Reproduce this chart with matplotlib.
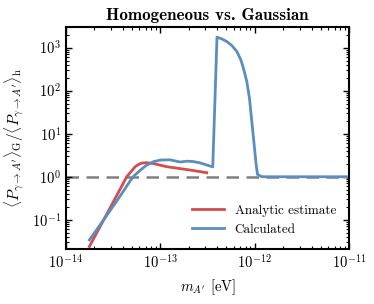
import matplotlib
matplotlib.use('Agg')
import matplotlib.pyplot as plt
import numpy as np

# Data
m_calc = [1.77e-14, 2.51e-14, 3.55e-14, 5.13e-14, 6.2e-14, 7.16e-14, 8.5e-14,
          1.0e-13, 1.26e-13, 1.62e-13, 1.91e-13, 2.24e-13, 2.63e-13, 3.36e-13,
          3.59e-13, 3.98e-13, 4.48e-13, 5.06e-13, 5.71e-13, 6.46e-13, 7.13e-13,
          7.59e-13, 8.24e-13, 8.79e-13, 9.31e-13, 9.86e-13, 1.035e-12,
          1.07e-12, 1.14e-12, 1.19e-12, 1.0e-11]
ratio_calc = [0.034, 0.1, 0.3, 1.0, 1.45, 1.87, 2.25, 2.44, 2.48, 2.2, 2.3, 2.25,
              2.1, 1.77, 1.7, 1750, 1590, 1380, 1120, 810, 515, 330, 162, 66,
              19, 5.5, 1.87, 1.13, 1.05, 1.0, 1.0]

m_analytic = [1.77e-14, 2.51e-14, 4.4e-14, 5.4e-14, 6.0e-14, 6.35e-14, 7.16e-14,
              8.5e-14, 1.17e-13, 2.07e-13, 3.1e-13]
ratio_analytic = [0.024, 0.1, 1.0, 1.71, 1.98, 2.08, 2.12, 2.02, 1.71, 1.43, 1.24]

x_ticks = [1e-14, 1e-13, 1e-12, 1e-11]
y_ticks = [1e-1, 1e0, 1e1, 1e2, 1e3]

plt.rcParams['font.family'] = 'serif'
plt.rcParams['font.serif'] = ['cmr10']
plt.rcParams['mathtext.fontset'] = 'cm'
plt.rcParams['axes.formatter.use_mathtext'] = True

fig = plt.figure(figsize=(3.74, 3.04), dpi=100)
ax = fig.add_axes([0.1765, 0.181, 0.757, 0.730])

ax.axhline(1.0, color='#808080', lw=1.8, ls=(0, (5, 3)), zorder=1)
ax.plot(m_analytic, ratio_analytic, color='#d34d4f', lw=2, label='Analytic estimate')
ax.plot(m_calc, ratio_calc, color='#5b8ebd', lw=2, label='Calculated')

ax.set_xscale('log')
ax.set_yscale('log')
ax.set_xticks(x_ticks)
ax.set_yticks(y_ticks)
ax.set_xlim(1e-14, 1e-11)
ax.set_ylim(0.021, 3000)

ax.tick_params(which='both', direction='in', top=True, right=True, labelsize=10.5)
ax.tick_params(which='major', length=4, width=1)
ax.tick_params(which='minor', length=2, width=0.8)
for s in ax.spines.values():
    s.set_linewidth(1.5)

ax.set_title('Homogeneous vs. Gaussian', fontfamily='cmb10', fontsize=12.3, pad=5)
ax.set_xlabel(r"$m_{A'}$ [eV]", fontsize=10.5)
ax.set_ylabel(r"$\langle P_{\gamma\to A'}\rangle_{\rm G}/\langle P_{\gamma\to A'}\rangle_{\rm h}$",
              fontsize=11)

ax.legend(loc='lower right', frameon=False, fontsize=9.5, handlelength=2.4,
          borderaxespad=0.6)

fig.savefig('out.png', dpi=100)
